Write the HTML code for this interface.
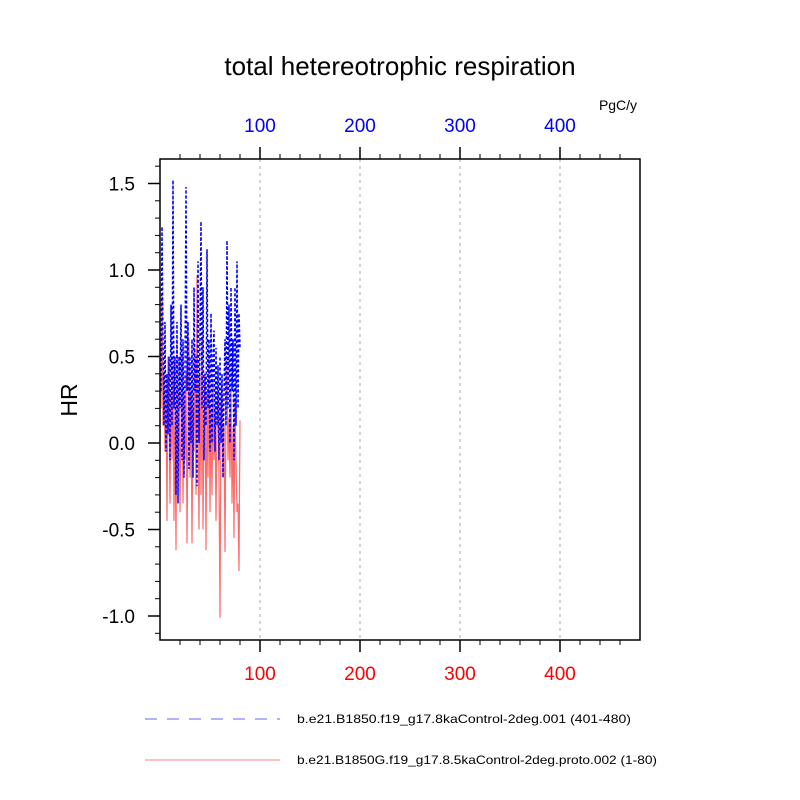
<!DOCTYPE html>
<html><head><meta charset="utf-8"><style>body{margin:0;background:#fff}svg{display:block;font-family:"Liberation Sans",sans-serif}</style></head>
<body>
<svg id="c" width="800" height="800"></svg>
<script>
const xs = Array.from({length:80},(_, i)=>i+1);
const blueVals = [0.3,1.25,0.6,0.1,0.7,-0.05,0.4,0.05,0.5,-0.1,0.8,0.1,1.52,0.2,0.5,-0.3,0.7,-0.35,0.5,0.2,0.8,-0.1,0.6,-0.2,0.4,1.48,0.3,0.7,-0.15,0.5,0.0,0.6,-0.2,0.9,0.3,0.5,-0.25,1.05,0.0,0.6,1.28,0.2,0.9,-0.1,0.4,0.1,1.12,0.2,0.6,-0.05,0.75,0.0,0.5,0.65,-0.05,0.55,0.1,0.45,-0.1,0.5,0.0,0.4,-0.2,0.3,0.6,0.1,1.17,0.2,0.8,0.0,0.9,0.3,0.6,-0.1,0.9,0.1,1.05,0.2,0.75,0.55];
const redVals = [0.2,0.85,0.1,0.4,-0.05,0.3,-0.45,0.5,0.2,-0.35,0.3,-0.1,0.5,-0.45,0.2,-0.62,0.6,-0.2,0.3,-0.4,0.1,0.5,-0.35,0.3,-0.1,0.4,-0.58,0.1,0.6,-0.2,0.3,-0.58,0.2,-0.05,0.55,-0.3,0.97,0.1,-0.5,0.4,-0.3,0.6,-0.5,0.1,0.4,-0.62,0.3,-0.2,0.5,-0.4,0.2,-0.3,0.35,-0.1,0.2,-0.45,0.1,0.3,-0.2,-1.01,0.2,0.35,-0.2,0.1,-0.63,0.2,0.5,-0.1,0.15,-0.2,0.3,-0.35,0.1,-0.55,0.25,-0.1,-0.4,-0.35,-0.74,0.13];
const xTicks = [100,200,300,400];
const yTicks = [-1.0,-0.5,0.0,0.5,1.0,1.5];
const yTickLabels = ["-1.0","-0.5","0.0","0.5","1.0","1.5"];

const L=160,R=640,T=159,B=640;
const sx=v=>L+(v-0)*(R-L)/480;
const sy=v=>443-v*173;
const svg=document.getElementById('c');
const NS='http://www.w3.org/2000/svg';
function mk(tag,attrs,name,txt){const e=document.createElementNS(NS,tag);for(const k in attrs)e.setAttribute(k,attrs[k]);


if(txt!==undefined)e.textContent=txt;svg.appendChild(e);return e;}

mk('text',{x:400,y:75,'font-size':26,'text-anchor':'middle'},'chart-title','total hetereotrophic respiration');
mk('text',{x:618,y:110,'font-size':14,'text-anchor':'middle'},'units-label','PgC/y');
mk('text',{x:77,y:400,'font-size':23,'text-anchor':'middle',transform:'rotate(-90 77 400)'},'y-axis-title','HR');

xTicks.forEach(v=>{
  mk('line',{x1:sx(v),x2:sx(v),y1:T,y2:B,stroke:'#aaa','stroke-dasharray':'3,4','stroke-width':1},'grid-line');
  mk('text',{x:sx(v),y:680,'font-size':19,fill:'#f00','text-anchor':'middle'},'x-tick-label-bottom',String(v));
  mk('text',{x:sx(v),y:132,'font-size':19,fill:'#00f','text-anchor':'middle'},'x-tick-label-top',String(v));
});
for(let v=20;v<480;v+=20){
  const maj=v%100===0;
  mk('line',{x1:sx(v),x2:sx(v),y1:B,y2:B+(maj?12:5),stroke:'#000','stroke-width':maj?1.5:1},'x-tick-bottom');
  mk('line',{x1:sx(v),x2:sx(v),y1:T,y2:T-(maj?12:5),stroke:'#000','stroke-width':maj?1.5:1},'x-tick-top');
}
for(let i=-11;i<=16;i++){
  const v=i/10;const maj=i%5===0;
  mk('line',{x1:L,x2:L-(maj?12:5),y1:sy(v),y2:sy(v),stroke:'#000','stroke-width':maj?1.5:1},'y-tick');
}
yTicks.forEach((v,i)=>mk('text',{x:135,y:sy(v)+7,'font-size':19,'text-anchor':'end'},'y-tick-label',yTickLabels[i]));

mk('polyline',{points:xs.map((x,i)=>sx(x)+','+sy(redVals[i])).join(' '),fill:'none',stroke:'#ff6b6b','stroke-width':1.2},'series-red');
mk('polyline',{points:xs.map((x,i)=>sx(x)+','+sy(blueVals[i])).join(' '),fill:'none',stroke:'#0000ff','stroke-width':1.5,'stroke-dasharray':'3,2'},'series-blue');

mk('rect',{x:L,y:T,width:R-L,height:B-T,fill:'none',stroke:'#000','stroke-width':1.5},'plot-frame');

mk('line',{x1:145,x2:280,y1:719,y2:719,stroke:'#6666ff','stroke-dasharray':'12,10','stroke-width':1},'legend-line-blue');
mk('text',{x:297,y:723,'font-size':12,textLength:334,lengthAdjust:'spacingAndGlyphs'},'legend-label-blue','b.e21.B1850.f19_g17.8kaControl-2deg.001 (401-480)');
mk('line',{x1:145,x2:280,y1:760,y2:760,stroke:'#ff8080','stroke-width':1},'legend-line-red');
mk('text',{x:297,y:764,'font-size':12,textLength:360,lengthAdjust:'spacingAndGlyphs'},'legend-label-red','b.e21.B1850G.f19_g17.8.5kaControl-2deg.proto.002 (1-80)');
</script>
</body></html>
